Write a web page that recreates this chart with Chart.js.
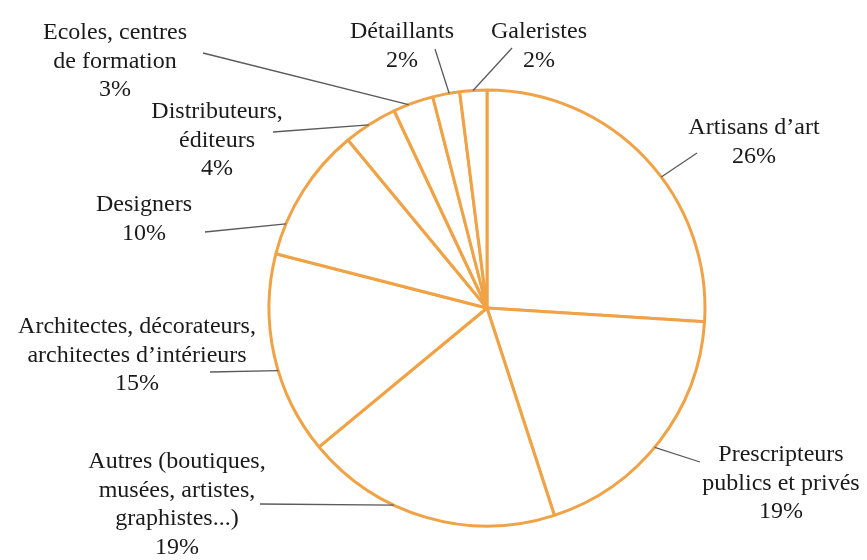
<!DOCTYPE html>
<html>
<head>
<meta charset="utf-8">
<script src="https://cdn.jsdelivr.net/npm/chart.js@4"></script>
<style>
html,body{margin:0;padding:0;background:#fff;}
#wrap{width:867px;height:560px;position:relative;}
</style>
</head>
<body>
<div id="wrap"><canvas id="c" width="867" height="560"></canvas></div>
<script>
// ---- data ----
const categories = [
  ["Artisans d’art"],
  ["Prescripteurs", "publics et privés"],
  ["Autres (boutiques,", "musées, artistes,", "graphistes...)"],
  ["Architectes, décorateurs,", "architectes d’intérieurs"],
  ["Designers"],
  ["Distributeurs,", "éditeurs"],
  ["Ecoles, centres", "de formation"],
  ["Détaillants"],
  ["Galeristes"]
];
const values = [26, 19, 19, 15, 10, 4, 3, 2, 2];

// ---- label layout (annotation placement, not data) ----
const labelPos = [
  {x: 754, y: 128, lx: 697, ly: 153, t: 0.567},
  {x: 781, y: 455, lx: 700, ly: 462, t: 0.528},
  {x: 177, y: 462, lx: 260, ly: 504, t: 0.633},
  {x: 137, y: 327, lx: 210, ly: 372, t: 0.424},
  {x: 144, y: 205, lx: 205, ly: 232, t: 0.23},
  {x: 217, y: 112, lx: 273, ly: 132, t: 0.47},
  {x: 115, y: 33,  lx: 203, ly: 53,  t: 0.38},
  {x: 402, y: 32,  lx: 435, ly: 49,  t: 0.61},
  {x: 539, y: 32,  lx: 512, ly: 48,  t: 0.49}
];
const lineH = 28.5;

const labelPlugin = {
  id: 'pieLabels',
  afterDraw(chart) {
    const ctx = chart.ctx;
    const meta = chart.getDatasetMeta(0);
    ctx.save();
    meta.data.forEach((arc, i) => {
      const p = labelPos[i];
      const a = arc.startAngle + p.t * (arc.endAngle - arc.startAngle);
      const r = arc.outerRadius;
      const ex = arc.x + r * Math.cos(a);
      const ey = arc.y + r * Math.sin(a);
      ctx.strokeStyle = '#5a5a5a';
      ctx.lineWidth = 1.3;
      ctx.beginPath();
      ctx.moveTo(p.lx, p.ly);
      ctx.lineTo(ex, ey);
      ctx.stroke();

      const lines = categories[i].concat([values[i] + '%']);
      ctx.fillStyle = '#1a1a1a';
      ctx.font = '24px "Liberation Serif", "Times New Roman", serif';
      ctx.textAlign = 'center';
      ctx.textBaseline = 'middle';
      lines.forEach((ln, k) => {
        ctx.fillText(ln, p.x, p.y + k * lineH);
      });
    });
    ctx.restore();
  }
};

new Chart(document.getElementById('c'), {
  type: 'pie',
  data: {
    labels: categories,
    datasets: [{
      data: values,
      backgroundColor: '#ffffff',
      borderColor: '#f0a346',
      borderWidth: 3,
      hoverOffset: 0
    }]
  },
  options: {
    responsive: false,
    animation: false,
    radius: 218,
    layout: {padding: {top: 88, bottom: 32, left: 237, right: 130}},
    plugins: {legend: {display: false}, tooltip: {enabled: false}}
  },
  plugins: [labelPlugin]
});
</script>
</body>
</html>
